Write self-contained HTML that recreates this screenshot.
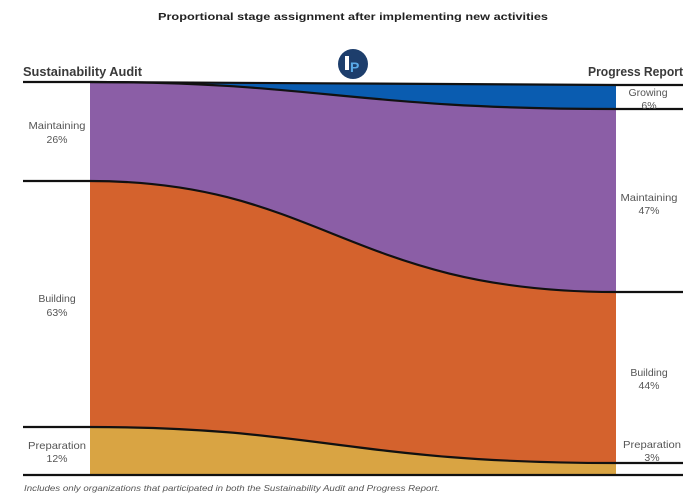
<!DOCTYPE html>
<html>
<head>
<meta charset="utf-8">
<style>
  html,body{margin:0;padding:0;background:#fff;}
  svg{display:block;}
  text{font-family:"Liberation Sans","DejaVu Sans",sans-serif;}
</style>
</head>
<body>
<svg width="700" height="504" viewBox="0 0 700 504" xmlns="http://www.w3.org/2000/svg">
  <rect width="700" height="504" fill="#ffffff"/>

  <!-- Title -->
  <text x="158" y="20" font-size="10.5" font-weight="bold" fill="#222" textLength="390" lengthAdjust="spacingAndGlyphs">Proportional stage assignment after implementing new activities</text>

  <!-- Column headers -->
  <text x="23" y="76" font-size="13" font-weight="bold" fill="#3a3a3a" textLength="119" lengthAdjust="spacingAndGlyphs">Sustainability Audit</text>
  <text x="683" y="76" font-size="13" font-weight="bold" fill="#3a3a3a" text-anchor="end" textLength="95" lengthAdjust="spacingAndGlyphs">Progress Report</text>

  <!-- Logo -->
  <circle cx="353" cy="64" r="15" fill="#1d3e6c"/>
  <rect x="345" y="56" width="4" height="14" fill="#ffffff"/>
  <text x="350" y="72" font-size="14" font-weight="bold" fill="#5aaae8">P</text>

  <!-- Filled areas -->
  <!-- Yellow: Preparation -->
  <path d="M90,427 C320,427 350,463 616,463 L616,475 L90,475 Z" fill="#d9a443"/>
  <!-- Orange: Building -->
  <path d="M90,181 C320,181 350,292 616,292 L616,463 C350,463 320,427 90,427 Z" fill="#d4622d"/>
  <!-- Purple: Maintaining -->
  <path d="M90,82 C320,82 350,109 616,109 L616,292 C350,292 320,181 90,181 Z" fill="#8b5ea6"/>
  <!-- Blue: Growing -->
  <path d="M90,82 C320,82 350,85 616,85 L616,109 C350,109 320,82 90,82 Z" fill="#0a5cb0"/>

  <!-- Boundary lines -->
  <g fill="none" stroke="#111" stroke-width="2.2">
    <path d="M23,82 L90,82 C320,82 350,85 616,85 L683,85"/>
    <path d="M90,82 C320,82 350,109 616,109 L683,109"/>
    <path d="M23,181 L90,181 C320,181 350,292 616,292 L683,292"/>
    <path d="M23,427 L90,427 C320,427 350,463 616,463 L683,463"/>
    <path d="M23,475 L683,475"/>
  </g>

  <!-- Left labels -->
  <g font-size="10.5" fill="#555" text-anchor="middle">
    <text x="57" y="129" textLength="57" lengthAdjust="spacingAndGlyphs">Maintaining</text>
    <text x="57" y="143">26%</text>
    <text x="57" y="302">Building</text>
    <text x="57" y="316">63%</text>
    <text x="57" y="449" textLength="58" lengthAdjust="spacingAndGlyphs">Preparation</text>
    <text x="57" y="462">12%</text>
  </g>

  <!-- Right labels -->
  <g font-size="10.5" fill="#555" text-anchor="middle">
    <text x="648" y="96">Growing</text>
    <text x="649" y="109">6%</text>
    <text x="649" y="201" textLength="57" lengthAdjust="spacingAndGlyphs">Maintaining</text>
    <text x="649" y="214">47%</text>
    <text x="649" y="376">Building</text>
    <text x="649" y="389">44%</text>
    <text x="652" y="448" textLength="58" lengthAdjust="spacingAndGlyphs">Preparation</text>
    <text x="652" y="461">3%</text>
  </g>

  <!-- Footer -->
  <text x="24" y="491" font-size="8.5" font-style="italic" fill="#555" textLength="416" lengthAdjust="spacingAndGlyphs">Includes only organizations that participated in both the Sustainability Audit and Progress Report.</text>
</svg>
</body>
</html>
